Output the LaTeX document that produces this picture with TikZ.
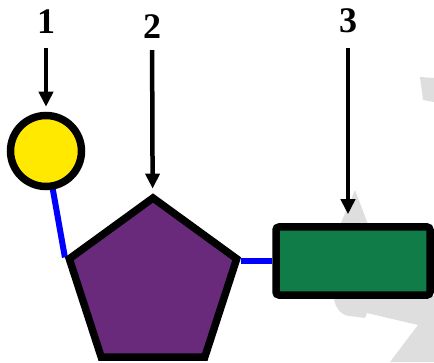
\documentclass[tikz,border=0pt]{standalone}
\usepackage{fontspec}
\setmainfont{Liberation Serif}
\usetikzlibrary{arrows.meta,backgrounds,positioning,shapes.geometric}

\definecolor{symyellow}{RGB}{255,233,0}
\definecolor{sympurple}{RGB}{106,42,124}
\definecolor{symgreen}{RGB}{16,124,72}
\definecolor{wmgrey}{RGB}{222,222,222}

\begin{document}
\begin{tikzpicture}[
    x=1pt, y=1pt,
    every node/.style={font=\fontsize{36}{40}\selectfont\bfseries},
    num/.style={inner sep=0pt},
    res/.style={draw, line width=7.5pt, inner sep=0pt},
    link/.style={draw=blue, line width=6pt},
    arr/.style={-{Triangle[width=14pt,length=15pt]}, line width=4.5pt},
    wm/.style={fill=wmgrey}
]
    \useasboundingbox (0,0) rectangle (434,362);

    % grey mark in the back
    \fill[wm] (420,285) -- (434,284) -- (434,260) -- (423,262) -- cycle;
    \fill[wm] (337,130) -- (355,172) -- (371,130) -- cycle;
    \fill[wm] (333,66) -- (336,56) [rounded corners=6pt] -- (342,47) [sharp corners] -- (365,44)
        -- (367,49) -- (418,37) -- (390,0) -- (434,0) -- (434,66) -- cycle;

    % residues
    \node[res, circle, fill=symyellow, minimum size=71pt] (circ) at (46,211) {};
    \node[res, regular polygon, regular polygon sides=5, fill=sympurple, minimum size=176pt] (pent) at (153,76) {};
    \node[res, rectangle, rounded corners=3pt, fill=symgreen, minimum width=154pt, minimum height=68pt] (box) at (353,101) {};

    \node[num] (lab1) at (46,340) {1};
    \node[num] (lab2) at (152,335) {2};
    \node[num] (lab3) at (348,341) {3};

    \begin{scope}[on background layer]
        \draw[link] (circ.center) -- (pent.corner 2);
        \draw[link] (pent.corner 5 |- box.west) -- (box.west);
    \end{scope}

    \draw[arr, shorten <=14pt, shorten >=5pt] (lab1) -- (circ);
    \draw[arr, shorten <=11pt, shorten >=5pt] (lab2) -- (pent);
    \draw[arr, shorten <=15pt, shorten >=9pt] (lab3) -- (lab3 |- box.north);
\end{tikzpicture}
\end{document}
